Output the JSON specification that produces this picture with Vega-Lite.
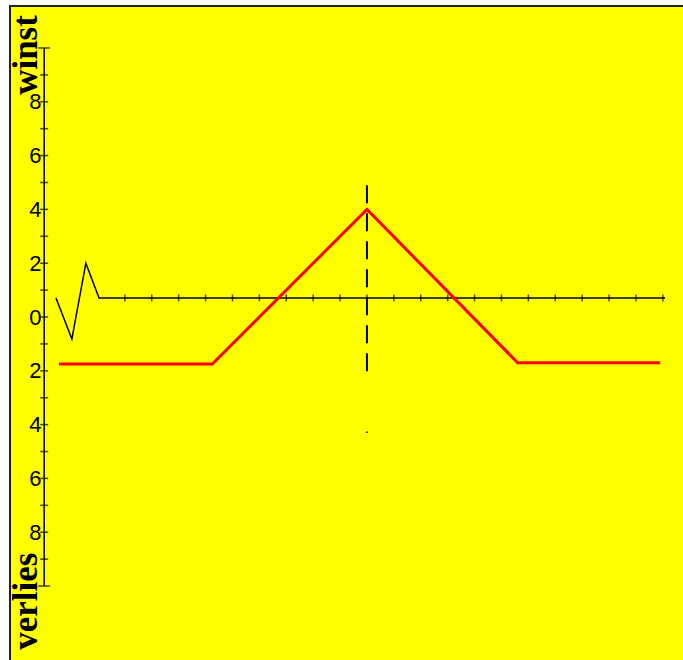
{
  "$schema": "https://vega.github.io/schema/vega-lite/v6.json",
  "width": 676,
  "height": 657,
  "autosize": {"type": "none"},
  "padding": {"left": 10, "top": 6, "right": -3, "bottom": -3},
  "background": "white",
  "config": {
    "view": {"fill": "#ffff00", "stroke": "#222222", "strokeWidth": 2}
  },
  "datasets": {
    "red": [
      {"x": -11.45, "y": -1.75},
      {"x": -5.75, "y": -1.75},
      {"x": 0, "y": 4},
      {"x": 5.6, "y": -1.7},
      {"x": 10.9, "y": -1.7}
    ],
    "axisline": [
      {"x": -11.56, "y": 0.71},
      {"x": -10.97, "y": -0.82},
      {"x": -10.45, "y": 2.0},
      {"x": -9.96, "y": 0.71},
      {"x": 11.08, "y": 0.71}
    ],
    "xticks": [
      {"x": -9, "y": 0.71}, {"x": -8, "y": 0.71}, {"x": -7, "y": 0.71}, {"x": -6, "y": 0.71},
      {"x": -5, "y": 0.71}, {"x": -4, "y": 0.71}, {"x": -3, "y": 0.71}, {"x": -2, "y": 0.71},
      {"x": -1, "y": 0.71}, {"x": 0, "y": 0.71}, {"x": 1, "y": 0.71}, {"x": 2, "y": 0.71},
      {"x": 3, "y": 0.71}, {"x": 4, "y": 0.71}, {"x": 5, "y": 0.71}, {"x": 6, "y": 0.71},
      {"x": 7, "y": 0.71}, {"x": 8, "y": 0.71}, {"x": 9, "y": 0.71}, {"x": 10, "y": 0.71},
      {"x": 11, "y": 0.71}
    ],
    "yticks": [
      {"x": -12, "y": -9}, {"x": -12, "y": -8}, {"x": -12, "y": -7}, {"x": -12, "y": -6},
      {"x": -12, "y": -5}, {"x": -12, "y": -4}, {"x": -12, "y": -3}, {"x": -12, "y": -2},
      {"x": -12, "y": -1}, {"x": -12, "y": 0}, {"x": -12, "y": 1}, {"x": -12, "y": 2},
      {"x": -12, "y": 3}, {"x": -12, "y": 4}, {"x": -12, "y": 5}, {"x": -12, "y": 6},
      {"x": -12, "y": 7}, {"x": -12, "y": 8}, {"x": -12, "y": 9}
    ],
    "caps": [{"x": -12, "y": -10}, {"x": -12, "y": 10}],
    "yline": [{"x": -12, "y": -10, "y2": 10}],
    "vline": [{"x": 0, "y": 4.9, "y2": -2.34}],
    "dot": [{"x": 0, "y": -4.28}],
    "labels": [
      {"x": -12.68, "y": 9.74, "t": "winst"},
      {"x": -12.68, "y": -10.56, "t": "verlies"}
    ]
  },
  "layer": [
    {
      "data": {"name": "yline"},
      "mark": {"type": "rule", "color": "black", "strokeWidth": 1.5},
      "encoding": {
        "x": {"field": "x", "type": "quantitative", "scale": {"domain": [-13.27, 11.86], "nice": false, "zero": false}, "axis": null},
        "y": {"field": "y", "type": "quantitative", "scale": {"domain": [-12.86, 11.56], "nice": false, "zero": false},
          "axis": {"orient": "left", "offset": -36, "values": [-8, -6, -4, -2, 0, 2, 4, 6, 8], "domain": false, "ticks": false, "grid": false,
            "labelExpr": "abs(datum.value)", "labelFont": "Liberation Sans", "labelFontSize": 22, "labelColor": "black", "labelPadding": 5, "title": null}},
        "y2": {"field": "y2"}
      }
    },
    {
      "data": {"name": "yticks"},
      "mark": {"type": "tick", "orient": "horizontal", "color": "black", "size": 8, "thickness": 1.5},
      "encoding": {
        "x": {"field": "x", "type": "quantitative"},
        "y": {"field": "y", "type": "quantitative"}
      }
    },
    {
      "data": {"name": "caps"},
      "mark": {"type": "tick", "orient": "horizontal", "color": "black", "size": 12, "thickness": 1.5},
      "encoding": {
        "x": {"field": "x", "type": "quantitative"},
        "y": {"field": "y", "type": "quantitative"}
      }
    },
    {
      "data": {"name": "axisline"},
      "mark": {"type": "line", "color": "black", "strokeWidth": 1.5},
      "encoding": {
        "x": {"field": "x", "type": "quantitative"},
        "y": {"field": "y", "type": "quantitative"}
      }
    },
    {
      "data": {"name": "xticks"},
      "mark": {"type": "tick", "orient": "vertical", "color": "black", "size": 7, "thickness": 1.5},
      "encoding": {
        "x": {"field": "x", "type": "quantitative"},
        "y": {"field": "y", "type": "quantitative"}
      }
    },
    {
      "data": {"name": "vline"},
      "mark": {"type": "rule", "color": "black", "strokeWidth": 2, "strokeDash": [18, 10]},
      "encoding": {
        "x": {"field": "x", "type": "quantitative"},
        "y": {"field": "y", "type": "quantitative"},
        "y2": {"field": "y2"}
      }
    },
    {
      "data": {"name": "dot"},
      "mark": {"type": "point", "filled": true, "color": "black", "size": 3, "opacity": 1},
      "encoding": {
        "x": {"field": "x", "type": "quantitative"},
        "y": {"field": "y", "type": "quantitative"}
      }
    },
    {
      "data": {"name": "red"},
      "mark": {"type": "line", "color": "#ff0000", "strokeWidth": 3},
      "encoding": {
        "x": {"field": "x", "type": "quantitative"},
        "y": {"field": "y", "type": "quantitative"}
      }
    },
    {
      "data": {"name": "labels"},
      "mark": {"type": "text", "angle": 270, "align": "center", "baseline": "middle", "font": "Liberation Serif", "fontWeight": "bold", "fontSize": 35, "color": "black"},
      "encoding": {
        "x": {"field": "x", "type": "quantitative"},
        "y": {"field": "y", "type": "quantitative"},
        "text": {"field": "t"}
      }
    }
  ]
}
